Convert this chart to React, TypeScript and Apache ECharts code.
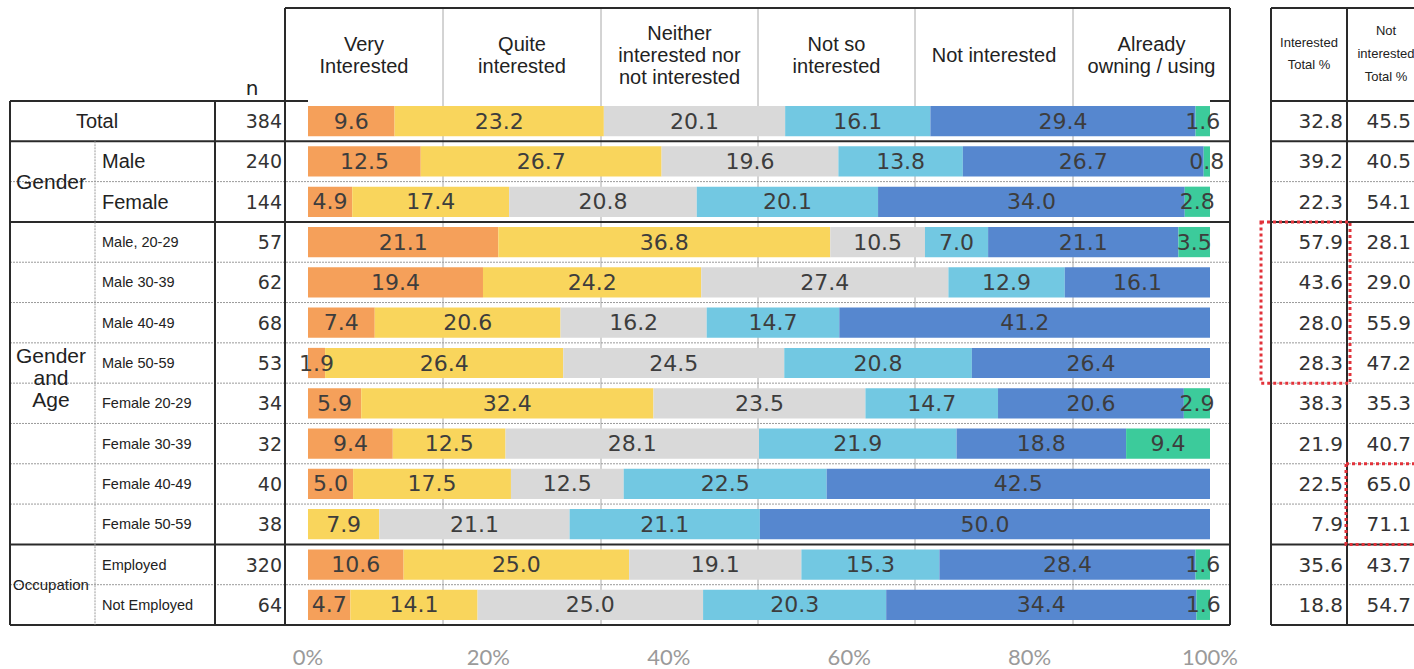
import React, { useEffect, useRef } from "react";
import * as echarts from "echarts";

const categories = [
  "Total", "Male", "Female", "Male, 20-29", "Male 30-39", "Male 40-49", "Male 50-59",
  "Female 20-29", "Female 30-39", "Female 40-49", "Female 50-59", "Employed", "Not Employed",
];
const nValues = [384, 240, 144, 57, 62, 68, 53, 34, 32, 40, 38, 320, 64];
const seriesNames = [
  "Very Interested", "Quite interested", "Neither interested nor not interested",
  "Not so interested", "Not interested", "Already owning / using",
];
const headerLabels = [
  "Very\nInterested", "Quite\ninterested", "Neither\ninterested nor\nnot interested",
  "Not so\ninterested", "Not interested", "Already\nowning / using",
];
const veryInterested = [9.6, 12.5, 4.9, 21.1, 19.4, 7.4, 1.9, 5.9, 9.4, 5.0, 0, 10.6, 4.7];
const quiteInterested = [23.2, 26.7, 17.4, 36.8, 24.2, 20.6, 26.4, 32.4, 12.5, 17.5, 7.9, 25.0, 14.1];
const neither = [20.1, 19.6, 20.8, 10.5, 27.4, 16.2, 24.5, 23.5, 28.1, 12.5, 21.1, 19.1, 25.0];
const notSoInterested = [16.1, 13.8, 20.1, 7.0, 12.9, 14.7, 20.8, 14.7, 21.9, 22.5, 21.1, 15.3, 20.3];
const notInterested = [29.4, 26.7, 34.0, 21.1, 16.1, 41.2, 26.4, 20.6, 18.8, 42.5, 50.0, 28.4, 34.4];
const alreadyOwning = [1.6, 0.8, 2.8, 3.5, 0, 0, 0, 2.9, 9.4, 0, 0, 1.6, 1.6];
const interestedTotal = [32.8, 39.2, 22.3, 57.9, 43.6, 28.0, 28.3, 38.3, 21.9, 22.5, 7.9, 35.6, 18.8];
const notInterestedTotal = [45.5, 40.5, 54.1, 28.1, 29.0, 55.9, 47.2, 35.3, 40.7, 65.0, 71.1, 43.7, 54.7];
const tickLabels = ["0%", "20%", "40%", "60%", "80%", "100%"];
const groupLabels = ["Total", "Gender", "Gender\nand\nAge", "Occupation"];
const groupStarts = [0, 1, 3, 11];
const groupEnds = [1, 3, 11, 13];

const colors = ["#F5A05A", "#F9D55C", "#D9D9D9", "#72C8E2", "#5687CF", "#3CCB9B"];

const W = 1414;
const H = 669;
const TOP = 101;
const BOTTOM = 625;
const ROW_H = (BOTTOM - TOP) / categories.length;
const rowTop = (i: number) => TOP + i * ROW_H;
const rowMid = (i: number) => TOP + (i + 0.5) * ROW_H;

export default function App() {
  const ref = useRef<HTMLDivElement>(null);
  useEffect(() => {
    if (!ref.current) return;
    const chart = echarts.init(ref.current, undefined, { renderer: "svg", width: W, height: H });
    const values = [veryInterested, quiteInterested, neither, notSoInterested, notInterested, alreadyOwning];

    const g: any[] = [];
    const thick = { stroke: "#2a2a2a", lineWidth: 2 };
    const thin = { stroke: "#9a9a9a", lineWidth: 1, lineDash: [2, 1] };
    const line = (x1: number, y1: number, x2: number, y2: number, style: any) =>
      g.push({ type: "line", z: 0, shape: { x1, y1, x2, y2 }, style });

    // column dividers in bar area
    const colX = [285, 443, 601, 758, 915, 1073, 1230];
    for (let k = 1; k < colX.length - 1; k++) line(colX[k], 8, colX[k], BOTTOM, { stroke: "#a8a8a8", lineWidth: 1 });
    // horizontal row lines
    const groupBoundary = new Set<number>([0, ...groupEnds]);
    for (let i = 0; i <= categories.length; i++) {
      const y = rowTop(i);
      const st = groupBoundary.has(i) ? thick : thin;
      if (i === 0) {
        line(10, y, 308, y, thick);
        line(1210, y, 1230, y, thick);
      } else {
        line(10, y, 1230, y, st);
      }
      line(1271, y, 1414, y, st);
    }
    // verticals
    line(10, TOP, 10, BOTTOM, thick);
    line(95, rowTop(1), 95, BOTTOM, thin);
    line(215, TOP, 215, BOTTOM, thick);
    line(285, 8, 285, BOTTOM, thick);
    line(1230, 8, 1230, BOTTOM, thick);
    line(285, 8, 1230, 8, thick);
    line(1271, 8, 1271, BOTTOM, thick);
    line(1347, 8, 1347, BOTTOM, thick);
    line(1271, 8, 1414, 8, thick);

    const txt = (text: string, x: number, y: number, size: number, align: string, family = "Liberation Sans", lh?: number) =>
      g.push({
        type: "text", z: 10, x, y,
        style: {
          text, fill: "#222", fontSize: size, fontFamily: family, textAlign: align,
          textVerticalAlign: "middle", lineHeight: lh || size * 1.1,
        },
      });

    // headers
    headerLabels.forEach((h, k) => txt(h, (colX[k] + colX[k + 1]) / 2, 55, 20, "center", "Liberation Sans", 22));
    txt("n", 252, 88, 20, "center", "DejaVu Sans");
    txt("Interested\nTotal %", 1309, 53, 13, "center", "Liberation Sans", 22);
    txt("Not\ninterested\nTotal %", 1386, 53, 13, "center", "Liberation Sans", 23);

    // group labels
    groupLabels.forEach((lab, k) => {
      const yc = (rowTop(groupStarts[k]) + rowTop(groupEnds[k])) / 2;
      if (k === 0) txt(lab, 97, yc, 20, "center");
      else if (k === 3) txt(lab, 51, yc, 15, "center");
      else txt(lab, 51, k === 2 ? yc - 6 : yc, 21, "center", "Liberation Sans", 22);
    });
    // sub labels
    categories.forEach((c, i) => {
      if (i === 0) return;
      const big = i <= 2;
      txt(c, 102, rowMid(i), big ? 20 : 14.5, "left");
    });

    // red dashed highlight rectangles
    g.push({
      type: "rect", z: 20, shape: { x: 1261, y: rowTop(3), width: 89, height: rowTop(7) - rowTop(3) },
      style: { fill: "none", stroke: "#E2323A", lineWidth: 3, lineDash: [3, 3] },
    });
    g.push({
      type: "rect", z: 20, shape: { x: 1346, y: rowTop(9), width: 80, height: rowTop(11) - rowTop(9) },
      style: { fill: "none", stroke: "#E2323A", lineWidth: 3, lineDash: [3, 3] },
    });

    const catAxisBase = {
      type: "category", inverse: true,
      axisLine: { show: false }, axisTick: { show: false }, splitLine: { show: false },
    };

    chart.setOption({
      animation: false,
      backgroundColor: "#ffffff",
      grid: {
        left: 308, right: W - 1210, top: TOP, bottom: H - BOTTOM,
        containLabel: false, outerBoundsMode: "none",
      },
      xAxis: {
        type: "value", min: 0, max: 100, interval: 20,
        axisLine: { show: false }, axisTick: { show: false }, splitLine: { show: false },
        axisLabel: {
          formatter: (v: number) => tickLabels[Math.round(v / 20)],
          margin: 20, fontSize: 22, fontFamily: "Lato", color: "#9a9a9a",
        },
      },
      yAxis: [
        { ...catAxisBase, data: categories, axisLabel: { show: false } },
        {
          ...catAxisBase, data: nValues.map(String), position: "left",
          axisLabel: { interval: 0, margin: 26, fontSize: 19, fontFamily: "DejaVu Sans", color: "#333" },
        },
        {
          ...catAxisBase, data: interestedTotal.map((v) => v.toFixed(1)), position: "right",
          axisLabel: { interval: 0, align: "right", margin: 1343 - 1210, fontSize: 20, fontFamily: "DejaVu Sans", color: "#333" },
        },
        {
          ...catAxisBase, data: notInterestedTotal.map((v) => v.toFixed(1)), position: "right",
          axisLabel: { interval: 0, align: "right", margin: 1411 - 1210, fontSize: 20, fontFamily: "DejaVu Sans", color: "#333" },
        },
      ],
      graphic: g,
      series: values.map((d, k) => ({
        name: seriesNames[k],
        type: "bar",
        stack: "total",
        yAxisIndex: 0,
        barCategoryGap: "25%",
        itemStyle: { color: colors[k] },
        z: 5,
        label: {
          show: true, position: "inside",
          formatter: (p: any) => (p.value > 0 ? Number(p.value).toFixed(1) : ""),
          fontSize: 22, fontFamily: "DejaVu Sans", color: "#3d3d3d",
        },
        data: d,
      })),
    });
    return () => chart.dispose();
  }, []);
  return <div ref={ref} style={{ position: "fixed", left: 0, top: 0, width: W, height: H, background: "#fff" }} />;
}
